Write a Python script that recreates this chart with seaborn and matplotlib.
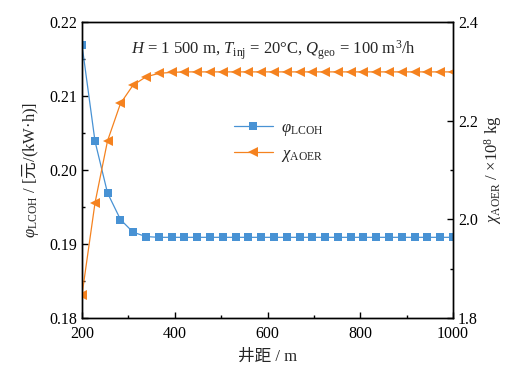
import numpy as np
import pandas as pd
import matplotlib
matplotlib.use('Agg')
import matplotlib.pyplot as plt
import seaborn as sns
from matplotlib.ticker import MultipleLocator, FormatStrFormatter

# ==========================================
# Data
# ==========================================
well_spacing = [200, 228, 255, 283, 310, 338, 366, 393, 421, 448,
                476, 503, 531, 559, 586, 614, 641, 669, 697, 724,
                752, 779, 807, 834, 862, 890, 917, 945, 972, 1000]

lcoh = [0.2169, 0.2039, 0.1969, 0.1933, 0.1916, 0.1910, 0.1909, 0.1909, 0.1909, 0.1909,
        0.1909, 0.1909, 0.1909, 0.1909, 0.1909, 0.1909, 0.1909, 0.1909, 0.1909, 0.1909,
        0.1909, 0.1909, 0.1909, 0.1909, 0.1909, 0.1909, 0.1909, 0.1909, 0.1909, 0.1909]

aoer = [1.847, 2.033, 2.159, 2.235, 2.272, 2.289, 2.296, 2.298, 2.299, 2.299,
        2.299, 2.299, 2.299, 2.299, 2.299, 2.299, 2.299, 2.299, 2.299, 2.299,
        2.299, 2.299, 2.299, 2.299, 2.299, 2.299, 2.299, 2.299, 2.299, 2.299]

df = pd.DataFrame({'x': well_spacing, 'lcoh': lcoh, 'aoer': aoer})

blue = '#4892D4'
orange = '#F5821F'

# ==========================================
# Style
# ==========================================
sns.set_theme(style='ticks')
plt.rcParams['font.family'] = ['Liberation Serif', 'Noto Sans CJK SC']
plt.rcParams['mathtext.fontset'] = 'custom'
plt.rcParams['mathtext.rm'] = 'Liberation Serif'
plt.rcParams['mathtext.it'] = 'Liberation Serif:italic'
plt.rcParams['mathtext.sf'] = 'Noto Sans CJK SC'
plt.rcParams['axes.linewidth'] = 1.0
plt.rcParams['axes.edgecolor'] = 'black'

fig = plt.figure(figsize=(5.24, 3.68), dpi=100)
ax = fig.add_axes([0.1565, 0.136, 0.708, 0.804])
ax2 = ax.twinx()

# ==========================================
# Lines
# ==========================================
sns.lineplot(data=df, x='x', y='lcoh', ax=ax, color=blue, marker='s',
             markersize=5.5, markeredgewidth=0, linewidth=0.9,
             label=r'$\varphi_{\rm LCOH}$', legend=False)
sns.lineplot(data=df, x='x', y='aoer', ax=ax2, color=orange, marker='<',
             markersize=6.5, markeredgewidth=0, linewidth=0.9,
             label=r'$\chi_{\rm AOER}$', legend=False)

# ==========================================
# Axes
# ==========================================
ax.set_xlim(200, 1000)
ax.set_ylim(0.18, 0.22)
ax2.set_ylim(1.8, 2.4)

ax.xaxis.set_major_locator(MultipleLocator(200))
ax.xaxis.set_minor_locator(MultipleLocator(100))
ax.yaxis.set_major_locator(MultipleLocator(0.01))
ax.yaxis.set_minor_locator(MultipleLocator(0.005))
ax.yaxis.set_major_formatter(FormatStrFormatter('%.2f'))
ax2.yaxis.set_major_locator(MultipleLocator(0.2))
ax2.yaxis.set_minor_locator(MultipleLocator(0.1))
ax2.yaxis.set_major_formatter(FormatStrFormatter('%.1f'))

for a in (ax, ax2):
    a.tick_params(which='major', direction='in', length=4, width=1.0,
                  labelsize=11.5, color='black', labelcolor='black')
    a.tick_params(which='minor', direction='in', length=2.5, width=1.0, color='black')
    for s in a.spines.values():
        s.set_color('black')
        s.set_linewidth(1.0)
ax.tick_params(axis='x', which='both', top=False, pad=6)
ax.tick_params(axis='y', which='both', right=False)
ax2.tick_params(axis='y', which='both', left=False)

ax.set_xlabel('井距 / m', fontsize=12, labelpad=5)
ax.set_ylabel(r'$\varphi_{\rm LCOH}$ / [$\mathsf{元}$/(kW·h)]', fontsize=12, labelpad=6)
ax2.set_ylabel(r'$\chi_{\rm AOER}$ / $\times 10^8$ kg', fontsize=12, labelpad=3)

ax.text(0.515, 0.905, r'$H$ = 1 500 m, $T_{\rm inj}$ = 20°C, $Q_{\rm geo}$ = 100 m$^3$/h',
        transform=ax.transAxes, ha='center', va='center', fontsize=12)

h1, l1 = ax.get_legend_handles_labels()
h2, l2 = ax2.get_legend_handles_labels()
ax2.legend(h1 + h2, l1 + l2, loc='upper left', bbox_to_anchor=(0.37, 0.72),
           frameon=False, fontsize=12, handlelength=2.3, handletextpad=0.5,
           labelspacing=0.5)

fig.savefig('out.png', dpi=100)
